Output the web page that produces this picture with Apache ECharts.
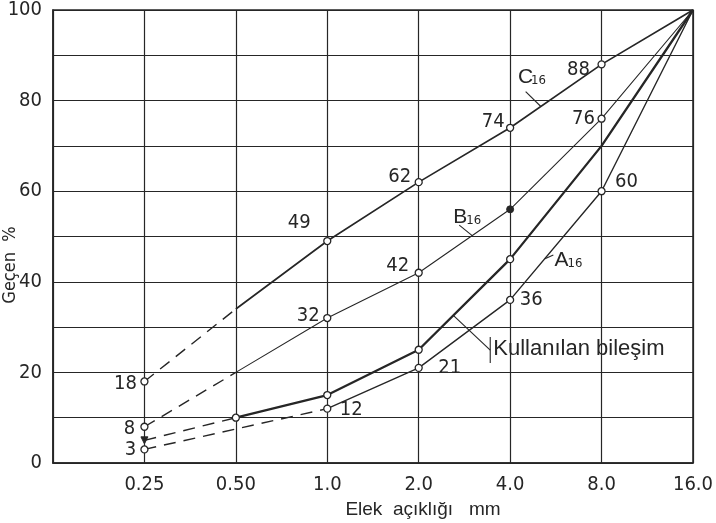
<!DOCTYPE html>
<html><head><meta charset="utf-8">
<script src="https://cdn.jsdelivr.net/npm/echarts@6/dist/echarts.min.js"></script>
<style>html,body{margin:0;padding:0;background:#fff}#c{width:716px;height:523px}</style>
</head><body><div id="c"></div>
<script>
// ---- data ----
const sieveSizes = [0.25, 0.5, 1, 2, 4, 8, 16];
const xTickLabels = ['0.25', '0.50', '1.0', '2.0', '4.0', '8.0', '16.0'];
const yTickLabels = [0, 20, 40, 60, 80, 100];
const curveC = [18, 34, 49, 62, 74, 88, 100];
const curveB = [8, 20, 32, 42, 56, 76, 100];
const curveUsed = [5, 10, 15, 25, 45, 70, 100];
const curveA = [3, null, 12, 21, 36, 60, 100];
// marker kinds: o = open circle, f = filled dot, t = filled triangle, '' = none
const marksC = ['o', '', 'o', 'o', 'o', 'o', ''];
const marksB = ['o', '', 'o', 'o', 'f', 'o', ''];
const marksUsed = ['t', 'o', 'o', 'o', 'o', '', ''];
const marksA = ['o', '', 'o', 'o', 'o', 'o', ''];
// last index of the dashed (extrapolated) part
const dashEndC = 1, dashEndB = 1, dashEndUsed = 1, dashEndA = 2;
const annotationTexts = { c: 'C', b: 'B', a: 'A', sub: '16', used: 'Kullanılan bileşim' };

// ---- styles ----
const INK = '#262626';
const NUM_FONT = '"DejaVu Sans Condensed", "Liberation Sans", sans-serif';
const TXT_FONT = '"Liberation Sans", "DejaVu Sans", sans-serif';
const labelOffsetsC = { 0: [-19, 2], 2: [-28, -18], 3: [-19, -5], 4: [-17, -6], 5: [-23, 5] };
const labelOffsetsB = { 0: [-15, 2], 2: [-19, -2], 3: [-21, -7], 5: [-18, 0] };
const labelOffsetsUsed = {};
const labelOffsetsA = { 0: [-14, 0], 2: [24, 1], 3: [31, 0], 4: [21, 0], 5: [25, -9] };

function buildSeries(values, marks, offsets, dashEnd, width) {
  const pts = [];
  sieveSizes.forEach((s, i) => { if (values[i] != null) pts.push({ i, x: Math.log2(s), y: values[i] }); });
  const item = (p, withMark) => {
    const kind = withMark ? marks[p.i] : '';
    const d = { value: [p.x, p.y] };
    if (!kind) d.symbol = 'none';
    else if (kind === 'o') { d.symbol = 'circle'; d.symbolSize = 7; d.itemStyle = { color: '#fff', borderColor: INK, borderWidth: 1.3 }; }
    else if (kind === 'f') { d.symbol = 'circle'; d.symbolSize = 7; d.itemStyle = { color: INK, borderColor: INK, borderWidth: 1 }; }
    else if (kind === 't') { d.symbol = 'triangle'; d.symbolRotate = 180; d.symbolSize = 7; d.itemStyle = { color: INK, borderColor: INK, borderWidth: 1 }; }
    if (withMark && offsets[p.i]) {
      d.label = { show: true, position: 'inside', offset: offsets[p.i], formatter: String(p.y),
        fontFamily: NUM_FONT, fontSize: 20, color: INK };
    }
    return d;
  };
  const dashed = pts.filter(p => p.i <= dashEnd).map(p => item(p, p.i < dashEnd));
  const solid = pts.filter(p => p.i >= dashEnd).map(p => item(p, true));
  const common = { type: 'line', silent: true, animation: false, showSymbol: true, symbolSize: 7 };
  return [
    Object.assign({}, common, { data: dashed, lineStyle: { color: INK, width: 1.4, type: [12, 8] }, itemStyle: { color: INK } }),
    Object.assign({}, common, { data: solid, lineStyle: { color: INK, width: width }, itemStyle: { color: INK } })
  ];
}

const chart = echarts.init(document.getElementById('c'), null, { renderer: 'canvas' });
const option = {
  backgroundColor: '#fff',
  animation: false,
  grid: { left: 53, right: 17, top: 10, bottom: 60, show: true, borderColor: INK, borderWidth: 1.5, containLabel: false },
  xAxis: {
    type: 'value', min: -3, max: 4, interval: 1,
    axisLine: { show: true, onZero: false, lineStyle: { color: INK, width: 1.5 } },
    axisTick: { show: false },
    splitLine: { show: true, lineStyle: { color: INK, width: 1.2 } },
    axisLabel: { margin: 12, fontFamily: NUM_FONT, fontSize: 20, color: INK,
      formatter: v => { const k = sieveSizes.indexOf(Math.pow(2, v)); return k >= 0 ? xTickLabels[k] : ''; } }
  },
  yAxis: {
    type: 'value', min: 0, max: 100, interval: 10,
    axisLine: { show: true, onZero: false, lineStyle: { color: INK, width: 1.5 } },
    axisTick: { show: false },
    splitLine: { show: true, lineStyle: { color: INK, width: 1.2 } },
    axisLabel: { margin: 11, fontFamily: NUM_FONT, fontSize: 20, color: INK,
      formatter: v => yTickLabels.includes(v) ? String(v) : '' }
  },
  series: [].concat(
    buildSeries(curveC, marksC, labelOffsetsC, dashEndC, 1.7),
    buildSeries(curveB, marksB, labelOffsetsB, dashEndB, 1.1),
    buildSeries(curveUsed, marksUsed, labelOffsetsUsed, dashEndUsed, 2.3),
    buildSeries(curveA, marksA, labelOffsetsA, dashEndA, 1.4)
  )
};
chart.setOption(option);

function P(size, val) { return chart.convertToPixel({ gridIndex: 0 }, [Math.log2(size), val]); }
function seg(a, b, w) { return { type: 'line', silent: true, shape: { x1: a[0], y1: a[1], x2: b[0], y2: b[1] }, style: { stroke: INK, lineWidth: w || 1.1 } }; }
function txt(p, t, size, font, extra) {
  return Object.assign({ type: 'text', silent: true, x: p[0], y: p[1],
    style: { text: t, font: size + 'px ' + font, fill: INK, textAlign: 'left', textVerticalAlign: 'top' } }, extra || {});
}
function subLabel(p, main) {
  return [txt(p, main, 21, TXT_FONT), txt([p[0] + 13, p[1] + 7], annotationTexts.sub, 13, NUM_FONT)];
}
const g = [];
// C16
g.push(...subLabel(P(4.25, 87.5), annotationTexts.c));
g.push(seg(P(4.5, 82), P(5.05, 78.7)));
// B16
g.push(...subLabel(P(2.6, 56.5), annotationTexts.b));
g.push(seg(P(2.72, 52.5), P(3.0, 50.2)));
// A16
g.push(...subLabel(P(5.6, 47), annotationTexts.a));
g.push(seg(P(5.55, 45.9), P(5.21, 45.1)));
// Kullanılan bileşim
g.push(seg(P(2.6, 32.6), P(3.44, 24.9)));
g.push(seg(P(3.44, 27.8), P(3.44, 22.1)));
const tp = P(3.52, 24.9);
g.push(txt([tp[0], tp[1] - 12], annotationTexts.used, 22, TXT_FONT));
// axis names
g.push({ type: 'text', silent: true, x: 423, y: 510, style: { text: 'Elek  açıklığı   mm', font: '19px ' + TXT_FONT, fill: INK, textAlign: 'center', textVerticalAlign: 'middle' } });
g.push({ type: 'text', silent: true, x: 10, y: 265, rotation: Math.PI / 2, style: { text: 'Geçen  %', font: '18px ' + NUM_FONT, fill: INK, textAlign: 'center', textVerticalAlign: 'middle' } });
chart.setOption({ graphic: g });
</script>
</body></html>
